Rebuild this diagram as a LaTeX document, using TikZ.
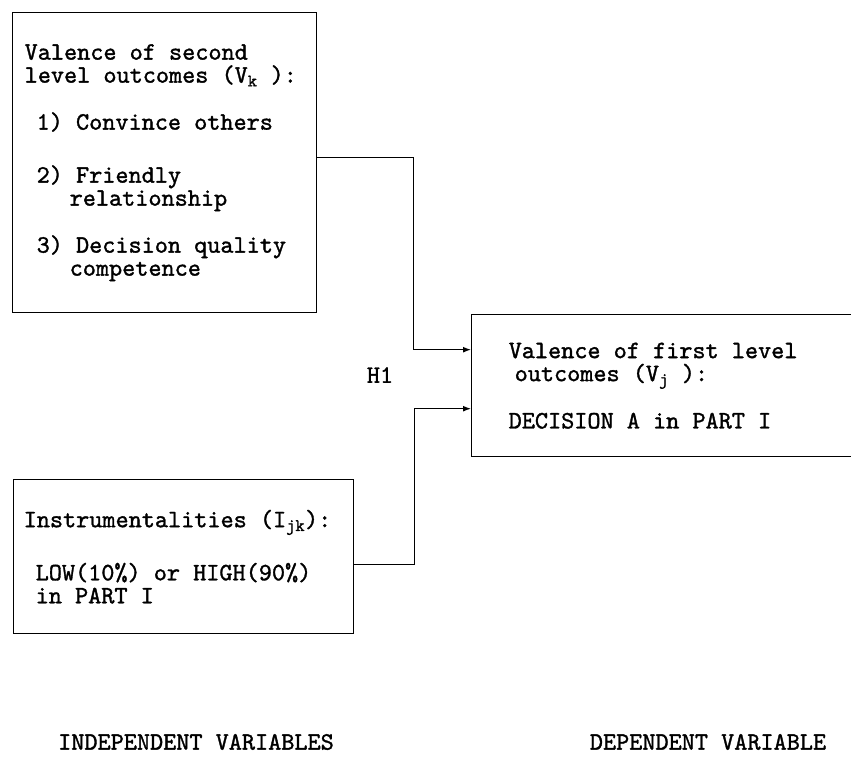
\documentclass[tikz,border=0pt]{standalone}
\usepackage{fontspec}
\setmonofont{lmmono10-regular.otf}[FakeBold=1.3]
\usepackage{tikz}
\usetikzlibrary{arrows.meta,positioning}
\newcommand{\typefont}{\fontsize{25}{23}\selectfont\ttfamily}
\tikzset{
  varbox/.style={draw=black, line width=1.4pt, anchor=north west, align=flush left, font=\typefont,
                 inner ysep=0pt},
  arr/.style={-{Latex[length=8pt,width=6pt]}, line width=1.3pt, draw=black},
  lbl/.style={font=\typefont},
}

\begin{document}
\begin{tikzpicture}[x=1pt,y=-1pt]
  \useasboundingbox (0,0) rectangle (851,763);
  \node[varbox, minimum width=304pt, minimum height=300pt, inner xsep=12pt, text width=280pt] (vsec) at (12,12)
    {Valence of second\\level outcomes (V\textsubscript{k} ):\\[24pt]
     \hspace*{12pt}1) Convince others\\[30pt]
     \hspace*{12pt}2) Friendly\\\hspace*{45pt}relationship\\[24pt]
     \hspace*{12pt}3) Decision quality\\\hspace*{45pt}competence};
  \node[varbox, minimum width=420pt, minimum height=142pt, inner xsep=37pt, text width=346pt] (vfirst) at (471,314)
    {Valence of first level\\\hspace*{6pt}outcomes (V\textsubscript{j} ):\\[23pt]DECISION A in PART I};
  \node[varbox, minimum width=340pt, minimum height=154pt, inner xsep=10pt, text width=320pt] (inst) at (13,479)
    {Instrumentalities (I\textsubscript{jk}):\\[27pt]
     \hspace*{12pt}LOW(10\%) or HIGH(90\%)\\\hspace*{12pt}in PART I};
  \node[lbl] (hyp) at (380,375) {H1};
  \draw[arr] ([yshift=5pt]vsec.east) -- ++(96,0) |- ([yshift=36pt]vfirst.west);
  \draw[arr] ([yshift=-8pt]inst.east) -- ++(60,0) |- ([yshift=-23pt]vfirst.west);
  \node[lbl] (indep) at (196,742) {INDEPENDENT VARIABLES};
  \node[lbl] (dep) at (708,742) {DEPENDENT VARIABLE};
\end{tikzpicture}
\end{document}
